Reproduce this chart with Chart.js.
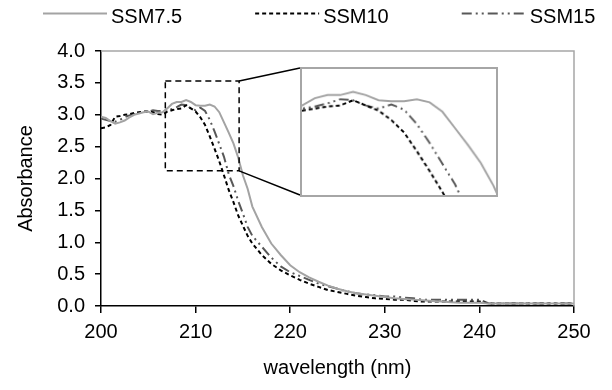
<!DOCTYPE html>
<html>
<head>
<meta charset="utf-8">
<script src="https://cdn.jsdelivr.net/npm/chart.js@4.4.1/dist/chart.umd.min.js"></script>
<style>
  html, body { margin: 0; padding: 0; background: #fff; }
  #wrap { position: relative; width: 612px; height: 390px; }
  #main { position: absolute; left: 0; top: 0; }
  #zoom { position: absolute; left: 300px; top: 67px; border: 2px solid #a6a6a6; background: #fff; }
</style>
</head>
<body>
<div id="wrap">
  <canvas id="main" width="612" height="390"></canvas>
  <canvas id="zoom" width="198" height="130"></canvas>
</div>
<script>
// absorbance spectra, 0.5 nm steps up to 216 nm, then 1 nm
const wavelength = [200, 200.5, 201, 201.5, 202, 202.5, 203, 203.5, 204, 204.5, 205, 205.5, 206, 206.5, 207, 207.5,
  208, 208.5, 209, 209.5, 210, 210.5, 211, 211.5, 212, 212.5, 213, 213.5, 214, 214.5, 215, 215.5, 216,
  217, 218, 219, 220, 221, 222, 223, 224, 225, 226, 227, 228, 229, 230, 231, 232, 233, 234, 235, 236, 237, 238, 239, 240,
  241, 242, 243, 244, 245, 246, 247, 248, 249, 250];

const ssm75 = [2.97, 2.95, 2.90, 2.86, 2.88, 2.91, 2.96, 3.00, 3.02, 3.04, 3.05, 3.01, 3.03, 3.04, 3.10, 3.17,
  3.20, 3.20, 3.23, 3.20, 3.15, 3.14, 3.14, 3.16, 3.13, 3.04, 2.88, 2.72, 2.55, 2.33, 2.05, 1.84, 1.56,
  1.24, 0.98, 0.80, 0.64, 0.53, 0.45, 0.38, 0.32, 0.27, 0.23, 0.20, 0.18, 0.16, 0.14, 0.12, 0.11, 0.10, 0.09, 0.08, 0.07, 0.06, 0.05, 0.05, 0.05,
  0.04, 0.04, 0.04, 0.04, 0.04, 0.04, 0.04, 0.04, 0.04, 0.04];

const ssm10 = [2.79, 2.80, 2.84, 2.97, 2.98, 3.00, 3.01, 3.03, 3.04, 3.05, 3.05, 3.04, 3.01, 3.00, 3.05, 3.07,
  3.09, 3.10, 3.15, 3.10, 3.05, 2.96, 2.84, 2.66, 2.47, 2.27, 2.05, 1.82, 1.63, 1.42, 1.26, 1.10, 0.98,
  0.80, 0.66, 0.56, 0.48, 0.41, 0.35, 0.30, 0.25, 0.22, 0.19, 0.16, 0.14, 0.12, 0.11, 0.10, 0.10, 0.08, 0.07, 0.07, 0.07, 0.07, 0.07, 0.07, 0.07,
  0.04, 0.04, 0.04, 0.04, 0.04, 0.04, 0.04, 0.04, 0.04, 0.04];

const ssm15 = [2.94, 2.92, 2.90, 2.89, 2.92, 2.96, 2.99, 3.01, 3.03, 3.04, 3.05, 3.07, 3.06, 3.06, 3.07, 3.09,
  3.12, 3.16, 3.15, 3.10, 3.07, 3.11, 3.06, 2.92, 2.74, 2.54, 2.34, 2.07, 1.88, 1.65, 1.45, 1.24, 1.10,
  0.93, 0.76, 0.62, 0.53, 0.47, 0.41, 0.35, 0.31, 0.27, 0.23, 0.20, 0.18, 0.17, 0.15, 0.15, 0.13, 0.12, 0.10, 0.10, 0.10, 0.10, 0.10, 0.10, 0.10,
  0.04, 0.04, 0.04, 0.04, 0.04, 0.04, 0.04, 0.04, 0.04, 0.04];

const seriesNames = ['SSM7.5', 'SSM10', 'SSM15'];
const xTicks = [200, 210, 220, 230, 240, 250];
const yTicks = [0, 0.5, 1, 1.5, 2, 2.5, 3, 3.5, 4];

// dashed zoom window on the main plot, and the range shown in the inset
const boxX = [206.8, 214.6];
const boxY = [2.12, 3.53];
const insetX = [207.0, 214.6];
const insetY = [2.24, 3.45];

Chart.defaults.font.family = '"Liberation Sans", Arial, sans-serif';
Chart.defaults.font.size = 20;
Chart.defaults.color = '#000';

const lineStyles = [
  { borderColor: '#a3a3a3', borderWidth: 2, borderDash: [] },
  { borderColor: '#000000', borderWidth: 2, borderDash: [4, 3] },
  { borderColor: '#585858', borderWidth: 2, borderDash: [10, 4, 2, 4, 2, 4] }
];

function makeDatasets() {
  return [ssm75, ssm10, ssm15].map((vals, i) => Object.assign({
    label: seriesNames[i],
    data: wavelength.map((w, j) => ({ x: w, y: vals[j] })),
    pointRadius: 0,
    tension: 0,
    fill: false
  }, lineStyles[i]));
}

// gray frame on top/right, dashed zoom box and the two leader lines
const zoomFrame = {
  id: 'zoomFrame',
  afterDatasetsDraw(chart) {
    const { ctx, chartArea: a, scales: { x, y } } = chart;
    ctx.save();
    ctx.strokeStyle = '#a6a6a6';
    ctx.lineWidth = 1.5;
    ctx.beginPath();
    ctx.moveTo(a.left, a.top);
    ctx.lineTo(a.right, a.top);
    ctx.lineTo(a.right, a.bottom);
    ctx.stroke();

    const l = x.getPixelForValue(boxX[0]), r = x.getPixelForValue(boxX[1]);
    const t = y.getPixelForValue(boxY[1]), b = y.getPixelForValue(boxY[0]);
    ctx.strokeStyle = '#000';
    ctx.lineWidth = 1.5;
    ctx.setLineDash([6, 4]);
    ctx.strokeRect(l, t, r - l, b - t);

    const inset = document.getElementById('zoom');
    const ix = inset.offsetLeft, it = inset.offsetTop, ib = it + inset.offsetHeight;
    ctx.setLineDash([]);
    ctx.beginPath();
    ctx.moveTo(r, t);
    ctx.lineTo(ix, it + 1);
    ctx.moveTo(r, b);
    ctx.lineTo(ix, ib - 6);
    ctx.stroke();
    ctx.restore();
  }
};

// one-row legend with long line samples
const lineLegend = {
  id: 'lineLegend',
  afterDraw(chart, args, opts) {
    const { ctx } = chart;
    ctx.save();
    ctx.font = '20px "Liberation Sans", Arial, sans-serif';
    ctx.textBaseline = 'middle';
    let x = opts.left;
    chart.data.datasets.forEach(ds => {
      ctx.strokeStyle = ds.borderColor;
      ctx.lineWidth = ds.borderWidth;
      ctx.setLineDash(ds.borderDash);
      ctx.beginPath();
      ctx.moveTo(x, opts.lineY);
      ctx.lineTo(x + opts.sample, opts.lineY);
      ctx.stroke();
      x += opts.sample + 4;
      ctx.fillStyle = '#000';
      ctx.fillText(ds.label, x, opts.textY);
      x += ctx.measureText(ds.label).width + opts.gap;
    });
    ctx.restore();
  }
};

new Chart(document.getElementById('main'), {
  type: 'line',
  data: { datasets: makeDatasets() },
  options: {
    responsive: false,
    animation: false,
    layout: { padding: { top: 51, right: 38, bottom: 0, left: 0 } },
    plugins: {
      legend: { display: false },
      tooltip: { enabled: false },
      lineLegend: { left: 43, lineY: 13.5, textY: 17.5, sample: 64, gap: 73 }
    },
    scales: {
      x: {
        type: 'linear',
        min: 200,
        max: 250,
        afterBuildTicks: s => { s.ticks = xTicks.map(v => ({ value: v })); },
        afterFit: s => { s.height = 84; },
        grid: { drawOnChartArea: false, tickLength: 7, color: '#000', lineWidth: 1.5 },
        border: { color: '#000', width: 1.5 },
        ticks: { padding: 7, maxRotation: 0 },
        title: { display: true, text: 'wavelength (nm)', padding: { top: 0, bottom: 10 } }
      },
      y: {
        min: 0,
        max: 4,
        afterBuildTicks: s => { s.ticks = yTicks.map(v => ({ value: v })); },
        afterFit: s => { s.width = 101; },
        grid: { drawOnChartArea: false, tickLength: 6, color: '#000', lineWidth: 1.5 },
        border: { color: '#000', width: 1.5 },
        ticks: { padding: 10, callback: v => v.toFixed(1) },
        title: { display: true, text: 'Absorbance', padding: { top: 14, bottom: 0 } }
      }
    }
  },
  plugins: [zoomFrame, lineLegend]
});

// enlarged view of the absorption edge
new Chart(document.getElementById('zoom'), {
  type: 'line',
  data: { datasets: makeDatasets() },
  options: {
    responsive: false,
    animation: false,
    layout: { padding: 0 },
    plugins: { legend: { display: false }, tooltip: { enabled: false } },
    scales: {
      x: { type: 'linear', min: insetX[0], max: insetX[1], display: false },
      y: { min: insetY[0], max: insetY[1], display: false }
    }
  }
});
</script>
</body>
</html>
